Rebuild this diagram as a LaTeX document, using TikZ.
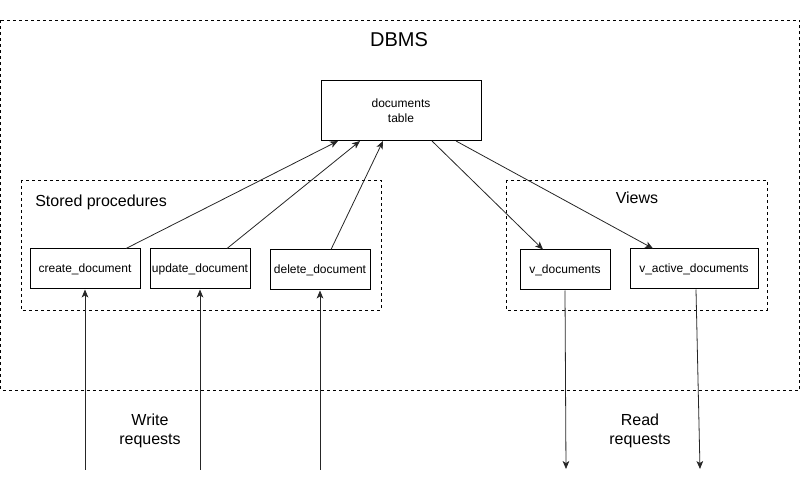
\documentclass[tikz,border=0pt]{standalone}
\usepackage{fontspec}
\setmainfont{Liberation Sans}
\usetikzlibrary{arrows.meta,calc}
\tikzset{
  px/.style={x=0.75pt,y=-0.75pt},
  box/.style={draw=black,line width=0.75pt,rectangle,inner sep=0pt,font=\fontsize{9pt}{11pt}\selectfont,align=center},
  group/.style={draw=black,line width=0.6pt,dash pattern=on 2.25pt off 2.25pt},
  conn/.style={draw=black!85,line width=0.6pt,-{Stealth[length=6pt,width=5pt,inset=1.6pt]}},
  biglabel/.style={font=\fontsize{12pt}{14pt}\selectfont,inner sep=0pt,align=center},
}
\begin{document}
\begin{tikzpicture}[px]
\useasboundingbox (0,0) rectangle (801,499);
% groups
\draw[group] (0.5,20.5) rectangle (799.5,390);
\draw[group] (21,180) rectangle (381,310);
\draw[group] (506,180) rectangle (767,310);
% titles
\node[font=\fontsize{15pt}{18pt}\selectfont,inner sep=0pt] (dbms) at (399,40) {DBMS};
\node[biglabel,anchor=west] (sp) at (35,202) {Stored procedures};
\node[biglabel] (views) at (637,198) {Views};
% boxes
\node[box,minimum width=120pt,minimum height=45pt] (table) at (401,110.5) {documents\\table};
\node[box,minimum width=82.5pt,minimum height=30pt] (create) at (85,269) {create\_document};
\node[box,minimum width=75pt,minimum height=30pt] (update) at (200,269) {update\_document};
\node[box,minimum width=75pt,minimum height=30pt] (delete) at (320,270) {delete\_document};
\node[box,minimum width=67.5pt,minimum height=30pt] (vdoc) at (565,270) {v\_documents};
\node[box,minimum width=96pt,minimum height=30pt] (vact) at (694,269) {v\_active\_documents};
% request labels
\node[biglabel] (write) at (150,431) {Write\\requests};
\node[biglabel] (read) at (640,431) {Read\\requests};
% free ends
\coordinate (w1) at (85,470);
\coordinate (w2) at (200,470);
\coordinate (w3) at (320,470);
\coordinate (r1) at (566,469);
\coordinate (r2) at (700,469);
% connectors to table
\draw[conn] ($(create.north)+(41,0)$) -- ($(table.south)+(-63,0)$);
\draw[conn] ($(update.north)+(27,0)$) -- ($(table.south)+(-41,0)$);
\draw[conn] ($(delete.north)+(11,0)$) -- ($(table.south)+(-18,0)$);
% table to views
\draw[conn] ($(table.south)+(31,0)$) -- ($(vdoc.north)+(-22,0)$);
\draw[conn] ($(table.south)+(55,0)$) -- ($(vact.north)+(-41,0)$);
% write requests
\draw[conn] (w1) -- (create.south);
\draw[conn] (w2) -- (update.south);
\draw[conn] (w3) -- (delete.south);
% read requests
\draw[conn] (vdoc.south) -- (r1);
\draw[conn] ($(vact.south)+(2,0)$) -- (r2);
\end{tikzpicture}
\end{document}
